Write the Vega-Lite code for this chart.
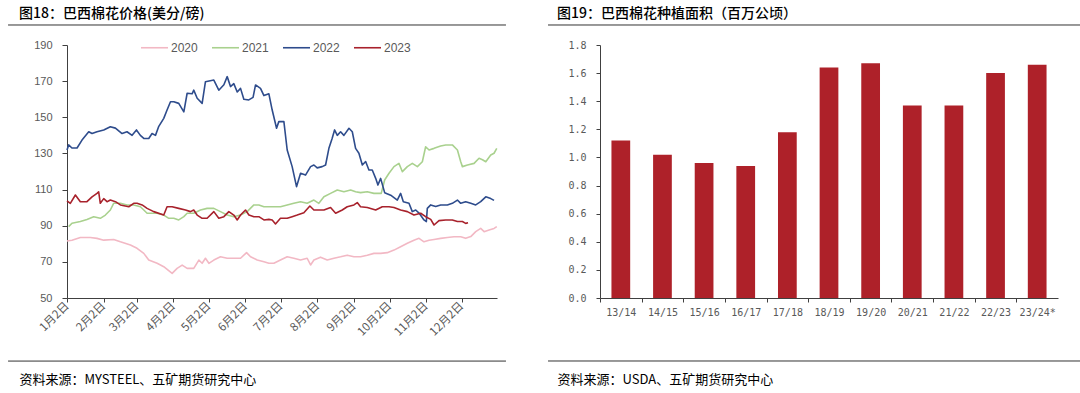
{
"$schema": "https://vega.github.io/schema/vega-lite/v6.json",
"background": "white",
"padding": {"left": 7, "top": 7, "right": 0, "bottom": 0},
"spacing": 40,
"config": {"view": {"stroke": null}, "axis": {"grid": false, "labelColor": "#595959", "domainColor": "#404040", "tickColor": "#404040", "labelOverlap": false}},
"hconcat": [
{
 "width": 430, "height": 253,
 "title": {"text": "图18：巴西棉花价格(美分/磅)", "anchor": "start", "frame": "group", "dx": -48, "offset": 3, "font": "Noto Sans CJK SC", "fontSize": 14, "fontWeight": 500, "color": "#000000"},
 "layer": [
  {
   "data": {"values": [
{"year":"2020","day":2,"price":81.5},{"year":"2020","day":6.2,"price":82},{"year":"2020","day":13.3,"price":83.5},{"year":"2020","day":21.8,"price":83.5},{"year":"2020","day":27.4,"price":83},{"year":"2020","day":33.1,"price":82},{"year":"2020","day":41.5,"price":82.4},{"year":"2020","day":47.2,"price":81.1},{"year":"2020","day":55.7,"price":79.3},{"year":"2020","day":61.3,"price":77.5},{"year":"2020","day":67,"price":74.7},{"year":"2020","day":71.2,"price":71},{"year":"2020","day":78.3,"price":69.2},{"year":"2020","day":83.9,"price":67.3},{"year":"2020","day":91,"price":63.6},{"year":"2020","day":95.2,"price":66.4},{"year":"2020","day":99.5,"price":68.2},{"year":"2020","day":103.7,"price":66.4},{"year":"2020","day":109.3,"price":66.4},{"year":"2020","day":113.6,"price":71},{"year":"2020","day":116.4,"price":69.2},{"year":"2020","day":119.2,"price":72},{"year":"2020","day":122.1,"price":69.2},{"year":"2020","day":126.3,"price":71},{"year":"2020","day":131.9,"price":72.8},{"year":"2020","day":137.6,"price":72},{"year":"2020","day":143.2,"price":72},{"year":"2020","day":148.9,"price":72},{"year":"2020","day":154,"price":75.1},{"year":"2020","day":157.4,"price":72.8},{"year":"2020","day":163,"price":71},{"year":"2020","day":168.7,"price":70.1},{"year":"2020","day":172.9,"price":69.2},{"year":"2020","day":177.1,"price":69.2},{"year":"2020","day":182.7,"price":71},{"year":"2020","day":188.4,"price":72.8},{"year":"2020","day":194,"price":72},{"year":"2020","day":199.7,"price":71},{"year":"2020","day":205.3,"price":72},{"year":"2020","day":208.2,"price":68.3},{"year":"2020","day":211,"price":71},{"year":"2020","day":216.6,"price":72.6},{"year":"2020","day":222.3,"price":71},{"year":"2020","day":228,"price":72},{"year":"2020","day":233.6,"price":72.8},{"year":"2020","day":239.2,"price":73.7},{"year":"2020","day":244.9,"price":72.8},{"year":"2020","day":250.5,"price":72.8},{"year":"2020","day":256.2,"price":73.7},{"year":"2020","day":261.8,"price":74.7},{"year":"2020","day":267.5,"price":74.7},{"year":"2020","day":273.1,"price":75.1},{"year":"2020","day":278.8,"price":76.5},{"year":"2020","day":284.4,"price":78.4},{"year":"2020","day":290.1,"price":80.3},{"year":"2020","day":295.7,"price":82},{"year":"2020","day":300,"price":83},{"year":"2020","day":304.2,"price":81.1},{"year":"2020","day":308.5,"price":82},{"year":"2020","day":312.7,"price":82.4},{"year":"2020","day":318.3,"price":83},{"year":"2020","day":324,"price":83.5},{"year":"2020","day":329.6,"price":83.9},{"year":"2020","day":335.3,"price":83.9},{"year":"2020","day":339.5,"price":83},{"year":"2020","day":343.8,"price":84},{"year":"2020","day":348,"price":86.7},{"year":"2020","day":352.2,"price":88.5},{"year":"2020","day":355.1,"price":86.7},{"year":"2020","day":359.3,"price":87.6},{"year":"2020","day":363.5,"price":88.5},{"year":"2020","day":365.8,"price":89.5},
{"year":"2021","day":3.4,"price":89.5},{"year":"2021","day":6.2,"price":91.4},{"year":"2021","day":13.3,"price":92.3},{"year":"2021","day":18.9,"price":93.5},{"year":"2021","day":24.6,"price":95},{"year":"2021","day":30.2,"price":94.1},{"year":"2021","day":34.5,"price":95.9},{"year":"2021","day":38.7,"price":98.7},{"year":"2021","day":41.5,"price":102.4},{"year":"2021","day":47.2,"price":102.4},{"year":"2021","day":52.8,"price":101.5},{"year":"2021","day":58.5,"price":101.5},{"year":"2021","day":64.1,"price":100.5},{"year":"2021","day":67,"price":98.7},{"year":"2021","day":69.8,"price":96.9},{"year":"2021","day":74,"price":96.9},{"year":"2021","day":78.3,"price":96.9},{"year":"2021","day":83.9,"price":95.9},{"year":"2021","day":88.2,"price":94.1},{"year":"2021","day":92.4,"price":94.1},{"year":"2021","day":96.6,"price":93.2},{"year":"2021","day":100.9,"price":95},{"year":"2021","day":103.7,"price":96.9},{"year":"2021","day":109.3,"price":96.9},{"year":"2021","day":115,"price":98.7},{"year":"2021","day":120.6,"price":99.6},{"year":"2021","day":126.3,"price":99.6},{"year":"2021","day":131.9,"price":97.8},{"year":"2021","day":137.6,"price":95.9},{"year":"2021","day":143.2,"price":95},{"year":"2021","day":148.9,"price":95.9},{"year":"2021","day":154.5,"price":97.8},{"year":"2021","day":160.2,"price":101.5},{"year":"2021","day":164.4,"price":101.5},{"year":"2021","day":168.7,"price":100.5},{"year":"2021","day":172.9,"price":100.5},{"year":"2021","day":177.1,"price":100.5},{"year":"2021","day":182.7,"price":100.5},{"year":"2021","day":188.4,"price":101.5},{"year":"2021","day":194,"price":102.4},{"year":"2021","day":199.7,"price":103.3},{"year":"2021","day":205.3,"price":102.4},{"year":"2021","day":211,"price":104.2},{"year":"2021","day":215.2,"price":102.4},{"year":"2021","day":219.5,"price":106},{"year":"2021","day":225.1,"price":107.9},{"year":"2021","day":230.8,"price":109.8},{"year":"2021","day":236.4,"price":108.8},{"year":"2021","day":242.1,"price":109.8},{"year":"2021","day":246.3,"price":108.8},{"year":"2021","day":250.5,"price":108.3},{"year":"2021","day":256.2,"price":108.8},{"year":"2021","day":261.8,"price":107.9},{"year":"2021","day":268,"price":107.9},{"year":"2021","day":270.9,"price":115.3},{"year":"2021","day":274.6,"price":119},{"year":"2021","day":278.8,"price":122.7},{"year":"2021","day":283,"price":124.5},{"year":"2021","day":285.9,"price":119.9},{"year":"2021","day":290.1,"price":122.7},{"year":"2021","day":294.3,"price":124.5},{"year":"2021","day":298.6,"price":122.7},{"year":"2021","day":302.8,"price":125.4},{"year":"2021","day":305.6,"price":133.7},{"year":"2021","day":308.5,"price":131.9},{"year":"2021","day":312.7,"price":132.8},{"year":"2021","day":318.3,"price":134.1},{"year":"2021","day":322.6,"price":134.7},{"year":"2021","day":328.2,"price":134.7},{"year":"2021","day":332.5,"price":131.9},{"year":"2021","day":335.3,"price":125.4},{"year":"2021","day":336.7,"price":122.7},{"year":"2021","day":341,"price":123.6},{"year":"2021","day":346.6,"price":124.5},{"year":"2021","day":350.8,"price":127.3},{"year":"2021","day":353.7,"price":126.5},{"year":"2021","day":356.5,"price":125.4},{"year":"2021","day":360.7,"price":129.1},{"year":"2021","day":363.5,"price":130.1},{"year":"2021","day":365.8,"price":132.8},
{"year":"2022","day":2,"price":131.9},{"year":"2022","day":3.4,"price":134.7},{"year":"2022","day":6.2,"price":133},{"year":"2022","day":10.5,"price":133},{"year":"2022","day":14.7,"price":137.4},{"year":"2022","day":20.4,"price":142},{"year":"2022","day":23.2,"price":141},{"year":"2022","day":27.4,"price":142},{"year":"2022","day":33.1,"price":143},{"year":"2022","day":38.7,"price":144.8},{"year":"2022","day":43,"price":144},{"year":"2022","day":48.6,"price":141},{"year":"2022","day":52.8,"price":142},{"year":"2022","day":57.1,"price":140},{"year":"2022","day":60.8,"price":143},{"year":"2022","day":64.1,"price":140},{"year":"2022","day":67,"price":138.3},{"year":"2022","day":71.2,"price":138.3},{"year":"2022","day":74,"price":141},{"year":"2022","day":76.9,"price":140},{"year":"2022","day":79.7,"price":145},{"year":"2022","day":83.9,"price":149.4},{"year":"2022","day":86.7,"price":154},{"year":"2022","day":89.6,"price":158.6},{"year":"2022","day":92.4,"price":158.6},{"year":"2022","day":96.6,"price":157.7},{"year":"2022","day":100.9,"price":153},{"year":"2022","day":103.7,"price":163.3},{"year":"2022","day":107.9,"price":163},{"year":"2022","day":109.3,"price":165},{"year":"2022","day":112.2,"price":160.5},{"year":"2022","day":116.4,"price":157.7},{"year":"2022","day":119.2,"price":169.7},{"year":"2022","day":126.3,"price":170.6},{"year":"2022","day":130.5,"price":165},{"year":"2022","day":134.8,"price":168},{"year":"2022","day":137.6,"price":172.5},{"year":"2022","day":140.4,"price":167},{"year":"2022","day":143.2,"price":168.6},{"year":"2022","day":146.1,"price":164},{"year":"2022","day":148.9,"price":166},{"year":"2022","day":151.7,"price":160},{"year":"2022","day":155.9,"price":159.6},{"year":"2022","day":159.5,"price":161},{"year":"2022","day":161.6,"price":167.9},{"year":"2022","day":165.8,"price":166},{"year":"2022","day":168.7,"price":162},{"year":"2022","day":172.9,"price":163},{"year":"2022","day":175.7,"price":154},{"year":"2022","day":179.4,"price":143.9},{"year":"2022","day":181.3,"price":147.6},{"year":"2022","day":185.6,"price":147.6},{"year":"2022","day":188.4,"price":131.9},{"year":"2022","day":192.6,"price":122.7},{"year":"2022","day":196.3,"price":111.6},{"year":"2022","day":199.7,"price":119},{"year":"2022","day":203.9,"price":118},{"year":"2022","day":208.2,"price":122.7},{"year":"2022","day":211,"price":123.6},{"year":"2022","day":213.8,"price":122},{"year":"2022","day":218,"price":122.7},{"year":"2022","day":220.9,"price":123.6},{"year":"2022","day":223.7,"price":132.8},{"year":"2022","day":226.5,"price":138.4},{"year":"2022","day":228.5,"price":143},{"year":"2022","day":230.8,"price":140},{"year":"2022","day":233.6,"price":142},{"year":"2022","day":236.4,"price":140},{"year":"2022","day":240.7,"price":143.9},{"year":"2022","day":243.5,"price":142},{"year":"2022","day":246.3,"price":132.8},{"year":"2022","day":249.1,"price":130.1},{"year":"2022","day":252,"price":123.6},{"year":"2022","day":254.8,"price":125.5},{"year":"2022","day":257.6,"price":120.8},{"year":"2022","day":260.4,"price":120.8},{"year":"2022","day":263.3,"price":116.2},{"year":"2022","day":265.2,"price":112.5},{"year":"2022","day":267.5,"price":116.2},{"year":"2022","day":270.9,"price":108.3},{"year":"2022","day":276,"price":106.9},{"year":"2022","day":281.6,"price":104.2},{"year":"2022","day":284.4,"price":107.9},{"year":"2022","day":286.7,"price":103.3},{"year":"2022","day":291.5,"price":102.4},{"year":"2022","day":294.3,"price":97.8},{"year":"2022","day":297.2,"price":98.7},{"year":"2022","day":300,"price":97},{"year":"2022","day":304.2,"price":93.2},{"year":"2022","day":306.2,"price":92.3},{"year":"2022","day":307,"price":99.6},{"year":"2022","day":309.9,"price":101.5},{"year":"2022","day":314.1,"price":100.6},{"year":"2022","day":318.3,"price":101.5},{"year":"2022","day":324,"price":101.5},{"year":"2022","day":328.2,"price":102.4},{"year":"2022","day":332.5,"price":104.2},{"year":"2022","day":335.3,"price":102.4},{"year":"2022","day":339.5,"price":103.3},{"year":"2022","day":343.8,"price":102.4},{"year":"2022","day":348,"price":101.5},{"year":"2022","day":352.2,"price":103.3},{"year":"2022","day":356.5,"price":106},{"year":"2022","day":360.7,"price":105},{"year":"2022","day":363.5,"price":104},
{"year":"2023","day":2,"price":103.8},{"year":"2023","day":4.8,"price":102.4},{"year":"2023","day":9.1,"price":107},{"year":"2023","day":13.3,"price":103.3},{"year":"2023","day":18.9,"price":103.3},{"year":"2023","day":23.2,"price":106},{"year":"2023","day":27.4,"price":107.9},{"year":"2023","day":28.8,"price":108.8},{"year":"2023","day":30.2,"price":102.4},{"year":"2023","day":33.1,"price":105},{"year":"2023","day":35.9,"price":103.3},{"year":"2023","day":38.7,"price":104.2},{"year":"2023","day":43,"price":103.3},{"year":"2023","day":47.2,"price":101.5},{"year":"2023","day":54.3,"price":100.5},{"year":"2023","day":58.5,"price":102.4},{"year":"2023","day":61.3,"price":102.4},{"year":"2023","day":65.6,"price":101.5},{"year":"2023","day":69.8,"price":99.6},{"year":"2023","day":75.4,"price":97.8},{"year":"2023","day":83.9,"price":95.9},{"year":"2023","day":86.7,"price":100.5},{"year":"2023","day":91,"price":100.5},{"year":"2023","day":96.6,"price":99.6},{"year":"2023","day":102.3,"price":98.7},{"year":"2023","day":106.5,"price":97.8},{"year":"2023","day":109.3,"price":98.7},{"year":"2023","day":112.2,"price":95.9},{"year":"2023","day":116.4,"price":94.1},{"year":"2023","day":120.6,"price":94.1},{"year":"2023","day":126.3,"price":97.8},{"year":"2023","day":130.5,"price":94.1},{"year":"2023","day":134.8,"price":95},{"year":"2023","day":139,"price":97.8},{"year":"2023","day":143.2,"price":95.9},{"year":"2023","day":146.1,"price":93.2},{"year":"2023","day":148.9,"price":95.9},{"year":"2023","day":153.1,"price":98.7},{"year":"2023","day":156,"price":95.9},{"year":"2023","day":160.2,"price":95},{"year":"2023","day":164.4,"price":95},{"year":"2023","day":168.7,"price":93.2},{"year":"2023","day":172.9,"price":93.5},{"year":"2023","day":175.7,"price":93.2},{"year":"2023","day":178.5,"price":91},{"year":"2023","day":182.7,"price":94.1},{"year":"2023","day":188.4,"price":94.1},{"year":"2023","day":192.6,"price":95},{"year":"2023","day":196.9,"price":95.9},{"year":"2023","day":202.5,"price":97.2},{"year":"2023","day":207.6,"price":100.9},{"year":"2023","day":211,"price":98.7},{"year":"2023","day":215.2,"price":98.7},{"year":"2023","day":219.5,"price":98.7},{"year":"2023","day":225.1,"price":100.1},{"year":"2023","day":229.4,"price":96.9},{"year":"2023","day":235,"price":98.7},{"year":"2023","day":239.2,"price":100.5},{"year":"2023","day":244.9,"price":101.5},{"year":"2023","day":247.7,"price":102.8},{"year":"2023","day":250.5,"price":100.5},{"year":"2023","day":256.2,"price":100.1},{"year":"2023","day":263.3,"price":98.7},{"year":"2023","day":268.9,"price":100.5},{"year":"2023","day":274.6,"price":100.5},{"year":"2023","day":278.8,"price":100.1},{"year":"2023","day":284.4,"price":98.7},{"year":"2023","day":290.1,"price":97.8},{"year":"2023","day":295.7,"price":95.9},{"year":"2023","day":301.4,"price":96.9},{"year":"2023","day":305.6,"price":95},{"year":"2023","day":309.9,"price":93.5},{"year":"2023","day":312.7,"price":90.4},{"year":"2023","day":316.9,"price":92.8},{"year":"2023","day":322.6,"price":93.2},{"year":"2023","day":328.2,"price":93.2},{"year":"2023","day":332.5,"price":92.3},{"year":"2023","day":336.7,"price":92.3},{"year":"2023","day":339.5,"price":91.3},{"year":"2023","day":341.5,"price":91.6}
   ]},
   "mark": {"type": "line", "strokeJoin": "round"},
   "encoding": {
    "x": {"field": "day", "type": "quantitative", "scale": {"domain": [2, 366], "nice": false, "zero": false},
      "axis": {"values": [2, 33, 61, 92, 122, 153, 183, 214, 245, 275, 306, 336], "tickCount": 40,
        "labelExpr": "(month(datetime(2021, 0, datum.value)) + 1) + '月' + date(datetime(2021, 0, datum.value)) + '日'",
        "labelAngle": -45, "labelAlign": "right", "labelBaseline": "middle", "labelFlush": false, "labelOverlap": false, "labelBound": false,
        "labelFont": "Noto Sans CJK SC", "labelFontSize": 11.5, "labelPadding": 2, "tickSize": 4,
        "title": "资料来源：MYSTEEL、五矿期货研究中心", "titleX": -48, "titleY": 81, "titleAlign": "left", "titleBaseline": "middle", "titleAngle": 0,
        "titleFont": "Noto Sans CJK SC", "titleFontSize": 13, "titleFontWeight": "normal", "titleColor": "#000000"}},
    "y": {"field": "price", "type": "quantitative", "scale": {"domain": [50, 190], "nice": false, "zero": false},
      "axis": {"values": [50, 70, 90, 110, 130, 150, 170, 190], "tickCount": 40, "labelOverlap": false, "title": null, "labelFont": "Liberation Sans", "labelFontSize": 11, "labelPadding": 10, "tickSize": 5}},
    "color": {"field": "year", "type": "nominal", "scale": {"domain": ["2020", "2021", "2022", "2023"], "range": ["#F2B8C4", "#A9D18E", "#2E4C8C", "#A8222C"]},
      "legend": {"title": null, "orient": "none", "legendX": 73, "legendY": -12, "direction": "horizontal", "symbolType": "stroke", "symbolSize": 729, "symbolStrokeWidth": 2, "labelFont": "Liberation Sans", "labelFontSize": 12, "labelColor": "#595959", "labelOffset": 2, "columnPadding": 10, "padding": 0}},
    "strokeWidth": {"field": "year", "type": "nominal", "scale": {"domain": ["2020", "2021", "2022", "2023"], "range": [1.6, 1.6, 2.2, 2.2]}, "legend": null}
   }
  },
  {"data": {"values": [{}]}, "mark": {"type": "rule", "clip": false, "color": "#333333", "strokeWidth": 1},
   "encoding": {"x": {"datum": -47.9}, "x2": {"datum": 373.6}, "y": {"datum": 201.07}}},
  {"data": {"values": [{}]}, "mark": {"type": "rule", "clip": false, "color": "#333333", "strokeWidth": 1},
   "encoding": {"x": {"datum": -47.9}, "x2": {"datum": 373.6}, "y": {"datum": 15.1}}}
 ]
},
{
 "width": 458, "height": 253,
 "title": {"text": "图19：巴西棉花种植面积（百万公顷）", "anchor": "start", "frame": "group", "dx": -43, "offset": 3, "font": "Noto Sans CJK SC", "fontSize": 14, "fontWeight": 500, "color": "#000000"},
 "layer": [
  {
   "data": {"values": [
    {"season": "13/14", "area": 1.12}, {"season": "14/15", "area": 1.02}, {"season": "15/16", "area": 0.96}, {"season": "16/17", "area": 0.94},
    {"season": "17/18", "area": 1.18}, {"season": "18/19", "area": 1.64}, {"season": "19/20", "area": 1.67}, {"season": "20/21", "area": 1.37},
    {"season": "21/22", "area": 1.37}, {"season": "22/23", "area": 1.60}, {"season": "23/24*", "area": 1.66}
   ]},
   "mark": {"type": "bar", "color": "#AE2129"},
   "encoding": {
    "x": {"field": "season", "type": "nominal", "sort": null, "scale": {"paddingInner": 0.55, "paddingOuter": 0.275},
      "axis": {"labelAngle": 0, "labelFont": "DejaVu Sans Mono", "labelFontSize": 10, "labelPadding": 5, "tickSize": 4, "tickOffset": -20.8, "labelOffset": 20.8,
        "title": "资料来源：USDA、五矿期货研究中心", "titleX": -43, "titleY": 81, "titleAlign": "left", "titleBaseline": "middle", "titleAngle": 0,
        "titleFont": "Noto Sans CJK SC", "titleFontSize": 13, "titleFontWeight": "normal", "titleColor": "#000000"}},
    "y": {"field": "area", "type": "quantitative", "scale": {"domain": [0, 1.8], "nice": false, "zero": true},
      "axis": {"values": [0, 0.2, 0.4, 0.6, 0.8, 1.0, 1.2, 1.4, 1.6, 1.8], "tickCount": 40, "labelOverlap": false, "format": ".1f", "title": null, "labelFont": "DejaVu Sans Mono", "labelFontSize": 10, "labelPadding": 10, "tickSize": 4}}
   }
  },
  {"data": {"values": [{}]}, "mark": {"type": "rule", "clip": false, "color": "#333333", "strokeWidth": 1},
   "encoding": {"x": {"datum": -0.1135, "type": "quantitative", "scale": {"domain": [0, 1]}, "axis": null}, "x2": {"datum": 1.0546}, "y": {"datum": 1.9423}}},
  {"data": {"values": [{}]}, "mark": {"type": "rule", "clip": false, "color": "#333333", "strokeWidth": 1},
   "encoding": {"x": {"datum": -0.1135, "type": "quantitative", "scale": {"domain": [0, 1]}, "axis": null}, "x2": {"datum": 1.0546}, "y": {"datum": -0.4482}}}
 ],
 "resolve": {"scale": {"x": "independent"}}
}
]
}
